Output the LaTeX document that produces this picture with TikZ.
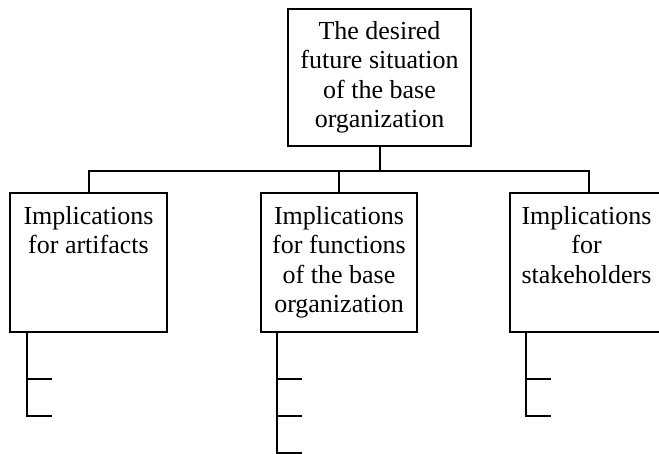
\documentclass[tikz,border=0pt]{standalone}
\usepackage{fontspec}
\setmainfont{Liberation Serif}
\usetikzlibrary{calc}
\begin{document}
\begin{tikzpicture}[x=1pt,y=1pt,
  box/.style={draw, line width=1.8pt, rectangle, inner sep=0pt},
  txt/.style={align=center, inner sep=0pt, font=\fontsize{26}{29.5}\selectfont},
  ln/.style={line width=2pt}]
\useasboundingbox (0,0) rectangle (659,-453);
\clip (0,0) rectangle (659,-453);
% boxes
\node[box, minimum width=183pt, minimum height=137pt] (top) at (379.5,-77.5) {};
\node[box, minimum width=157pt, minimum height=139pt] (left) at (88.5,-262.5) {};
\node[box, minimum width=156pt, minimum height=139pt] (mid) at (339,-262.5) {};
\node[box, minimum width=157pt, minimum height=139pt] (right) at (588.5,-262.5) {};
% texts
\node[txt] (ttop) at (top.center) {The desired\\future situation\\of the base\\organization};
\node[txt, anchor=north] (tleft) at ($(left.north)+(0,-14)$) {Implications\\for artifacts};
\node[txt, anchor=north] (tmid) at ($(mid.north)+(0,-14)$) {Implications\\for functions\\of the base\\organization};
\node[txt, anchor=north] (tright) at ($(right.north)+(-2,-14)$) {Implications\\for\\stakeholders};
% connectors
\coordinate (bus) at ($(top.south)+(0,-24)$);
\draw[ln] (top.south) -- (bus);
\draw[ln] (left.north) |- (bus) -| (right.north);
\draw[ln] (mid.north) -- (mid.north |- bus);
% sub-lines
\coordinate (la) at ($(left.south west)+(18,0)$);
\draw[ln] (la) -- ++(0,-83) -- ++(25,0);
\draw[ln] ($(la)+(0,-46)$) -- ++(25,0);
\coordinate (ma) at ($(mid.south west)+(17,0)$);
\draw[ln] (ma) -- ++(0,-120) -- ++(25,0);
\draw[ln] ($(ma)+(0,-46)$) -- ++(25,0);
\draw[ln] ($(ma)+(0,-83)$) -- ++(25,0);
\coordinate (ra) at ($(right.south west)+(17,0)$);
\draw[ln] (ra) -- ++(0,-83) -- ++(25,0);
\draw[ln] ($(ra)+(0,-46)$) -- ++(25,0);
\end{tikzpicture}
\end{document}
